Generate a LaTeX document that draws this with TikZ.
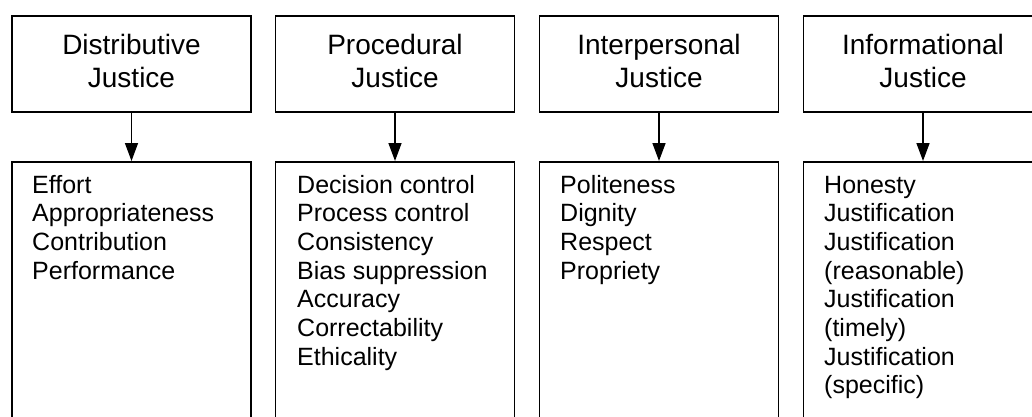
\documentclass[tikz,border=0pt]{standalone}
\usepackage{fontspec}
\setmainfont{Liberation Sans}
\usetikzlibrary{arrows.meta}
\begin{document}
\begin{tikzpicture}[x=1pt,y=1pt,
  box/.style={draw, line width=1.6pt, minimum width=239pt, inner sep=0pt},
  headbox/.style={box, minimum height=96pt},
  listbox/.style={box, minimum height=300pt, anchor=north},
  titletext/.style={anchor=base, inner sep=0pt, font=\fontsize{28}{33}\selectfont},
  listtext/.style={anchor=base west, inner sep=0pt, font=\fontsize{25}{28.7}\selectfont},
  link/.style={-{Triangle[width=13pt,length=18pt]}, line width=1.5pt}]
\useasboundingbox (0,0) rectangle (1032,-417);
\fill[white] (0,0) rectangle (1032,-417);
% header boxes
\node[headbox] (h1) at (131.5,-64) {};
\node[headbox] (h2) at (395,-64) {};
\node[headbox] (h3) at (659,-64) {};
\node[headbox] (h4) at (923,-64) {};
\node[titletext] (t1) at (131.5,-55) {\parbox[t]{230pt}{\centering Distributive\\Justice}};
\node[titletext] (t2) at (395,-55) {\parbox[t]{230pt}{\centering Procedural\\Justice}};
\node[titletext] (t3) at (659,-55) {\parbox[t]{230pt}{\centering Interpersonal\\Justice}};
\node[titletext] (t4) at (923,-55) {\parbox[t]{230pt}{\centering Informational\\Justice}};
% list boxes
\node[listbox] (b1) at (131.5,-161) {};
\node[listbox] (b2) at (395,-161) {};
\node[listbox] (b3) at (659,-161) {};
\node[listbox] (b4) at (923,-161) {};
\node[listtext] (l1) at (32,-193) {\parbox[t]{215pt}{\raggedright Effort\\Appropriateness\\Contribution\\Performance}};
\node[listtext] (l2) at (297,-193) {\parbox[t]{215pt}{\raggedright Decision control\\Process control\\Consistency\\Bias suppression\\Accuracy\\Correctability\\Ethicality}};
\node[listtext] (l3) at (560,-193) {\parbox[t]{215pt}{\raggedright Politeness\\Dignity\\Respect\\Propriety}};
\node[listtext] (l4) at (824,-193) {\parbox[t]{215pt}{\raggedright Honesty\\Justification\\Justification\\(reasonable)\\Justification\\(timely)\\Justification\\(specific)}};
% connectors
\draw[link] (h1) -- (b1);
\draw[link] (h2) -- (b2);
\draw[link] (h3) -- (b3);
\draw[link] (h4) -- (b4);
\end{tikzpicture}
\end{document}
